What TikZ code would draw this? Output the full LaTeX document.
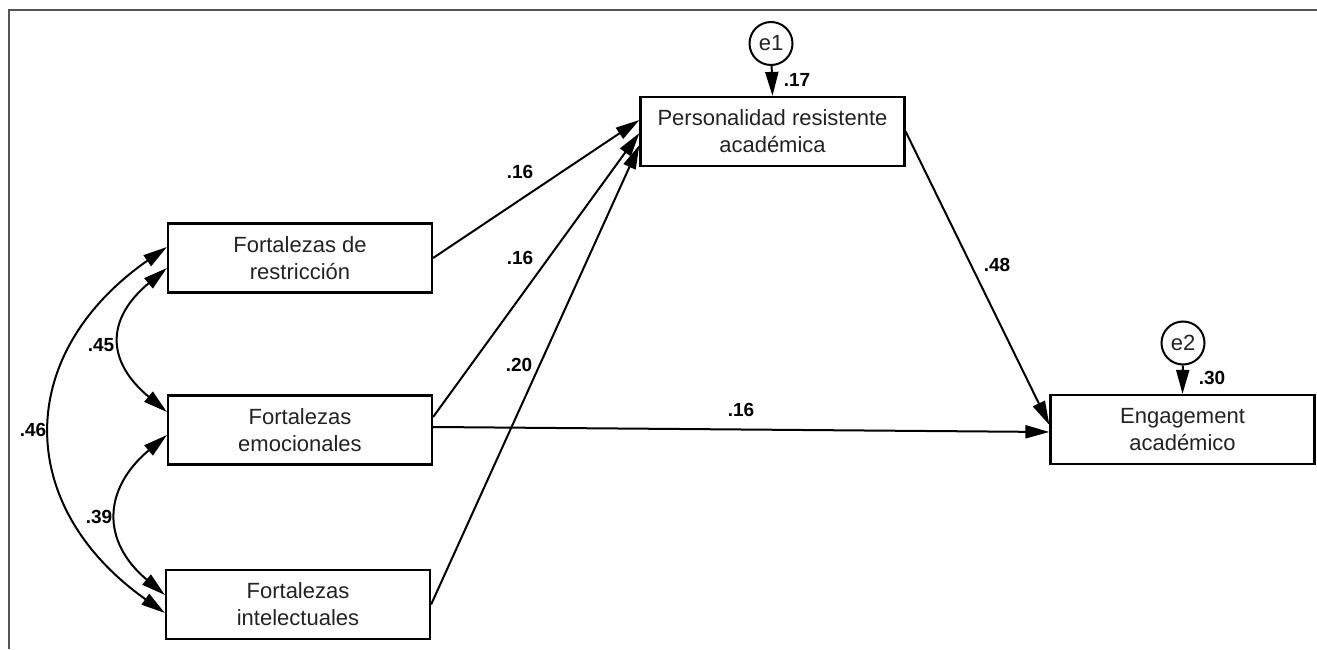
\documentclass[tikz,border=0pt]{standalone}
\usepackage{fontspec}
\setmainfont{Liberation Sans}
\usetikzlibrary{arrows.meta}
\definecolor{framegray}{HTML}{555555}
\definecolor{txtgray}{HTML}{222222}
\tikzset{
  box/.style={draw, line width=2.2pt, minimum width=264pt, minimum height=69pt, inner sep=0pt, align=center, text=txtgray, font=\fontsize{22}{27}\selectfont},
  errc/.style={draw, circle, line width=2pt, minimum size=43pt, inner sep=0pt, font=\fontsize{22}{24}\selectfont, text=txtgray},
  path/.style={line width=2pt, -{Triangle[length=24pt,width=13pt]}},
  cov/.style={line width=2pt, {Triangle[length=24pt,width=13pt]}-{Triangle[length=24pt,width=13pt]}},
  lab/.style={font=\fontsize{19}{22}\selectfont\bfseries, inner sep=0pt},
}
\begin{document}
\begin{tikzpicture}[x=1pt,y=1pt]
\useasboundingbox (0,0) rectangle (1317,649);
\draw[framegray, line width=2pt] (9,0) -- (9,639) -- (1317,639);

\node[box] (restr) at (300,391) {Fortalezas de\\restricción};
\node[box] (emoc) at (300,219) {Fortalezas\\emocionales};
\node[box] (intel) at (298,44.5) {Fortalezas\\intelectuales};
\node[box] (pers) at (772.5,517.5) {Personalidad resistente\\académica};
\node[box] (eng) at (1182.5,219.5) {Engagement\\académico};
\node[errc] (e1) at (771,605.5) {e1};
\node[errc] (e2) at (1183,306) {e2};

\draw[path] (e1) -- (pers.north);
\draw[path] (e2) -- (eng.north);
\draw[path] (restr.east) -- ([yshift=11.5pt]pers.west);
\draw[path] ([yshift=13pt]emoc.east) -- ([yshift=-1.5pt]pers.west);
\draw[path] (intel.east) -- ([yshift=-13.5pt]pers.west);
\draw[path] ([yshift=3pt]emoc.east) -- ([yshift=-2.5pt]eng.west);
\draw[path] (pers.east) -- ([yshift=4.5pt]eng.west);

\draw[cov] ([yshift=11pt]restr.west) .. controls +(-153,-107) and +(-151,107) .. ([yshift=-8.5pt]intel.west);
\draw[cov] ([yshift=-10pt]restr.west) .. controls +(-61,-51) and +(-61,51) .. ([yshift=18pt]emoc.west);
\draw[cov] ([yshift=-5pt]emoc.west) .. controls +(-64,-54) and +(-64,54) .. ([yshift=9.5pt]intel.west);

\node[lab] (l1) at (520,477) {.16};
\node[lab] (l2) at (520,391) {.16};
\node[lab] (l3) at (519,284) {.20};
\node[lab] (l4) at (741,239) {.16};
\node[lab] (l5) at (997,384) {.48};
\node[lab] (l6) at (101,304) {.45};
\node[lab] (l7) at (33,219) {.46};
\node[lab] (l8) at (99,132) {.39};
\node[lab] (l9) at (797,569) {.17};
\node[lab] (l10) at (1212,271) {.30};
\end{tikzpicture}
\end{document}
